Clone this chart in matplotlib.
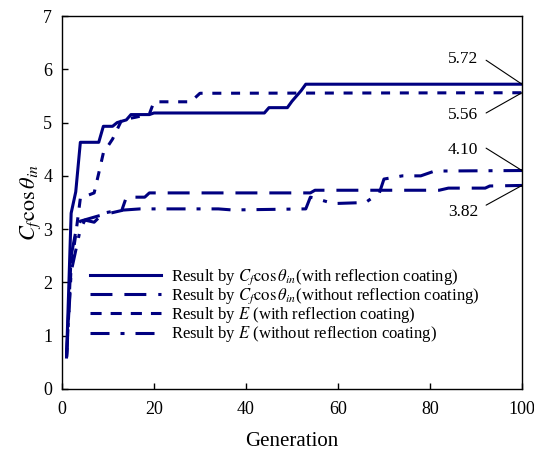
import matplotlib
matplotlib.use('Agg')
import matplotlib.pyplot as plt
from matplotlib.lines import Line2D

plt.rcParams['font.family'] = ['Liberation Serif', 'DejaVu Serif']
plt.rcParams['mathtext.fontset'] = 'stix'
plt.rcParams['lines.scale_dashes'] = False

# best individual per generation
gen_cf_with = [1, 2, 3, 4, 8, 9, 11, 12, 14, 15, 19, 20, 44, 45, 49, 50, 52, 53, 100]
cf_with = [0.6, 3.3, 3.7, 4.63, 4.63, 4.93, 4.93, 5.0, 5.05, 5.15, 5.15, 5.18, 5.18,
           5.28, 5.28, 5.4, 5.6, 5.72, 5.72]

gen_cf_without = [1, 2, 3, 4, 8, 13, 14, 18, 19, 54, 55, 82, 84, 92, 93, 100]
cf_without = [0.6, 2.5, 2.95, 3.15, 3.25, 3.35, 3.6, 3.6, 3.68, 3.68, 3.73, 3.73,
              3.77, 3.77, 3.81, 3.82]

gen_e_with = [1, 2, 3, 4, 7, 8, 9, 11, 13, 16, 19, 20, 28, 30, 100]
e_with = [0.6, 2.3, 2.9, 3.58, 3.68, 4.05, 4.43, 4.69, 5.05, 5.1, 5.16, 5.39, 5.39,
          5.55, 5.56]

gen_e_without = [1, 2, 3, 4, 5, 7, 9, 12, 17, 34, 37, 53, 54, 55, 59, 66, 69, 70,
                 74, 78, 81, 100]
e_without = [0.6, 2.2, 2.6, 3.0, 3.17, 3.13, 3.3, 3.35, 3.38, 3.38, 3.36, 3.38, 3.6,
             3.58, 3.48, 3.5, 3.68, 3.94, 4.0, 4.0, 4.09, 4.10]

labels = [r'Result by $C_f\cos\theta_{in}$(with reflection coating)',
          r'Result by $C_f\cos\theta_{in}$(without reflection coating)',
          r'Result by $E$ (with reflection coating)',
          r'Result by $E$ (without reflection coating)']

navy = '#000080'
lw = 2.2
d_long = (0, (15.8, 8.6))
d_short = (0, (6.5, 7.0))
d_dashdot = (0, (13.7, 7.9, 2.9, 7.9))

fig = plt.figure(figsize=(5.34, 4.51), dpi=100)
ax = fig.add_axes([0.116, 0.1375, 0.8615, 0.827])

ax.plot(gen_cf_with, cf_with, color=navy, lw=lw, linestyle='-')
ax.plot(gen_cf_without, cf_without, color=navy, lw=lw, linestyle=d_long)
ax.plot(gen_e_with, e_with, color=navy, lw=lw, linestyle=d_short)
ax.plot(gen_e_without, e_without, color=navy, lw=lw, linestyle=d_dashdot)

# legend handles as drawn in the original
handles = [Line2D([], [], color=navy, lw=lw, linestyle='-'),
           Line2D([], [], color=navy, lw=lw, linestyle=d_long),
           Line2D([], [], color=navy, lw=lw, linestyle=(0, (8.0, 6.5))),
           Line2D([], [], color=navy, lw=lw, linestyle=d_dashdot)]
ax.legend(handles, labels, loc='upper left', bbox_to_anchor=(0.06, 0.325),
          frameon=False, fontsize=12, handlelength=4.3, handletextpad=0.6,
          labelspacing=-0.05, borderpad=0, borderaxespad=0)

# end value call-outs
ends = [(gen_cf_with, cf_with, 6.19, 6.17),
        (gen_e_with, e_with, 5.14, 5.18),
        (gen_e_without, e_without, 4.48, 4.52),
        (gen_cf_without, cf_without, 3.32, 3.45)]
for g, v, ty, ly in ends:
    ax.annotate('', xy=(g[-1], v[-1]), xytext=(92.2, ly),
                arrowprops=dict(arrowstyle='-', color='black', lw=0.8,
                                shrinkA=0, shrinkB=0))
    ax.text(87.2, ty, f'{v[-1]:.2f}', ha='center', va='center', fontsize=12.5)

ax.set_xlim(0, 100)
ax.set_ylim(0, 7)
ax.set_xticks(range(0, 101, 20))
ax.set_yticks(range(0, 8))
ax.tick_params(axis='both', direction='in', length=4, width=1, labelsize=13,
               top=False, right=False)
ax.tick_params(axis='x', pad=9)
ax.tick_params(axis='y', pad=7)
for s in ax.spines.values():
    s.set_linewidth(1)

ax.set_xlabel('Generation', fontsize=15, labelpad=10)
ax.set_ylabel(r'$C_f\cos\theta_{in}$', fontsize=16, labelpad=0)

fig.savefig('out.png', dpi=100)
